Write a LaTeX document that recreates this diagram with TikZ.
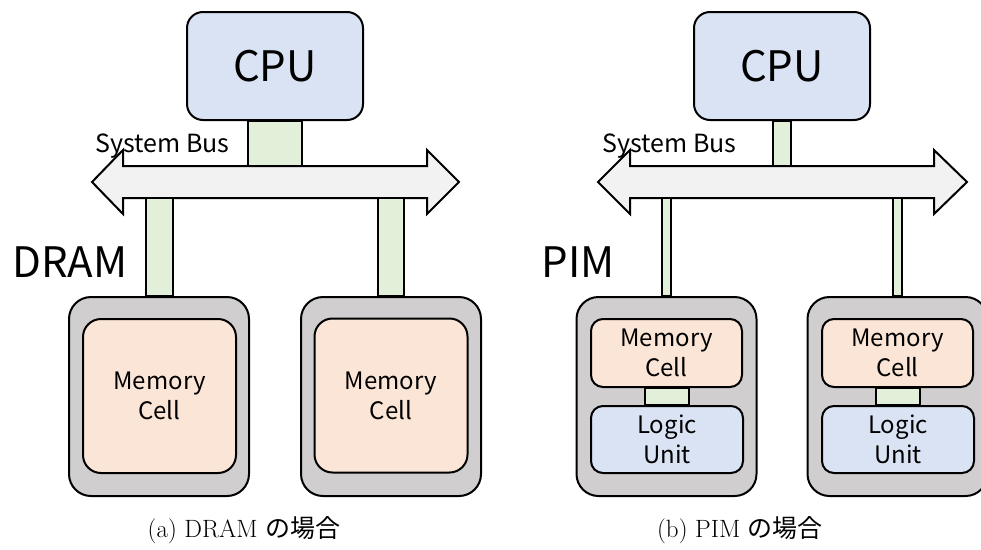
\documentclass[tikz,border=0pt]{standalone}
\usepackage{fontspec}
\setsansfont{Noto Sans CJK JP}
\newfontfamily\jpfont{Noto Sans CJK JP}
\usepackage{tikz}
\usetikzlibrary{calc}
\definecolor{cpublue}{RGB}{218,227,243}
\definecolor{linkgreen}{RGB}{226,240,217}
\definecolor{cellpeach}{RGB}{251,229,214}
\definecolor{chipgray}{RGB}{208,206,206}
\definecolor{busgray}{RGB}{242,242,242}
\tikzset{
  box/.style={draw, line width=2pt, inner sep=0pt, align=center},
  cpubox/.style={box, fill=cpublue, rounded corners=16pt, minimum width=176pt, minimum height=108pt,
    font=\sffamily\fontsize{42}{48}\selectfont},
  chipbox/.style={box, fill=chipgray, rounded corners=22pt, minimum width=180pt, minimum height=199pt},
  cellbox/.style={box, fill=cellpeach, rounded corners=18pt, font=\sffamily\fontsize{24}{30}\selectfont},
  logicbox/.style={box, fill=cpublue, rounded corners=12pt, minimum width=152pt, minimum height=67pt,
    font=\sffamily\fontsize{24}{30}\selectfont},
  link/.style={draw, line width=2pt, fill=linkgreen},
  bus/.style={draw, line width=2pt, fill=busgray},
  biglabel/.style={anchor=base, font=\sffamily\fontsize{42}{48}\selectfont},
  buslabel/.style={anchor=base west, font=\sffamily\fontsize{25}{30}\selectfont},
  caption/.style={anchor=base, font=\fontsize{25}{30}\selectfont}
}

\begin{document}
\begin{tikzpicture}[x=1pt,y=-1pt]
\clip (0,0) rectangle (981,549);

% (a) DRAM
\node[cpubox] (cpuA) at (275,66) {CPU};
\draw[bus] (92,182) -- (123,150) -- (123,166) -- (427,166) -- (427,150) -- (459,182)
  -- (427,214) -- (427,198) -- (123,198) -- (123,214) -- cycle;
\coordinate (busAtop) at (275,166);
\coordinate (busAbot) at (275,198);
\node[buslabel] (busAlabel) at (92,152) {System Bus};
\draw[link] ([xshift=-27pt]cpuA.south) rectangle ([xshift=27pt]cpuA.south |- busAtop);

\node[chipbox] (chipA1) at (159,396.5) {};
\node[chipbox] (chipA2) at (391,396.5) {};
\node[cellbox, minimum width=153pt, minimum height=154pt] (cellA1) at (159.5,396) {Memory\\Cell};
\node[cellbox, minimum width=153pt, minimum height=154pt] (cellA2) at (391,395.5) {Memory\\Cell};
\draw[link] ([xshift=-13.5pt]chipA1.north) rectangle ([xshift=13.5pt]chipA1.north |- busAbot);
\draw[link] ([xshift=-13pt]chipA2.north) rectangle ([xshift=13pt]chipA2.north |- busAbot);
\node[biglabel] (dram) at (70,277) {DRAM};

% (b) PIM
\node[cpubox] (cpuB) at (782,66) {CPU};
\draw[bus] (598,182) -- (630,150) -- (630,166) -- (934,166) -- (934,150) -- (967,182)
  -- (934,214) -- (934,198) -- (630,198) -- (630,214) -- cycle;
\coordinate (busBtop) at (782,166);
\coordinate (busBbot) at (782,198);
\node[buslabel] (busBlabel) at (599,152) {System Bus};
\draw[link] ([xshift=-9pt]cpuB.south) rectangle ([xshift=9pt]cpuB.south |- busBtop);

\node[chipbox] (chipB1) at (666.5,396.5) {};
\node[chipbox] (chipB2) at (897.5,396.5) {};
\node[cellbox, rounded corners=12pt, minimum width=151pt, minimum height=68pt] (cellB1) at (666.5,353) {Memory\\Cell};
\node[cellbox, rounded corners=12pt, minimum width=151pt, minimum height=68pt] (cellB2) at (897.5,353) {Memory\\Cell};
\node[logicbox] (logicB1) at (667,439.5) {Logic\\Unit};
\node[logicbox] (logicB2) at (898,439.5) {Logic\\Unit};
\draw[link] ([xshift=-22pt]cellB1.south) rectangle ([xshift=22pt]logicB1.north);
\draw[link] ([xshift=-22pt]cellB2.south) rectangle ([xshift=22pt]logicB2.north);
\draw[link] ([xshift=-4.5pt]chipB1.north) rectangle ([xshift=4.5pt]chipB1.north |- busBbot);
\draw[link] ([xshift=-4.5pt]chipB2.north) rectangle ([xshift=4.5pt]chipB2.north |- busBbot);
\node[biglabel] (pim) at (578,277) {PIM};

% captions
\node[caption] (capA) at (244,537) {(a) DRAM {\jpfont の場合}};
\node[caption] (capB) at (740,537) {(b) PIM {\jpfont の場合}};
\end{tikzpicture}
\end{document}
